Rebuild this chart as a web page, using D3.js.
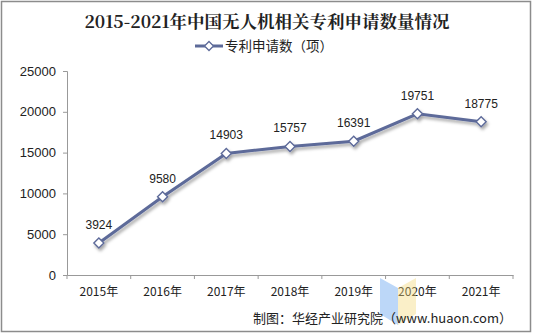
<!DOCTYPE html>
<html><head><meta charset="utf-8">
<script src="https://cdn.jsdelivr.net/npm/d3@7"></script>
<style>body{margin:0;background:#fff}svg{display:block}</style>
</head><body>
<svg id="c" width="533" height="334"></svg>
<script>
const categories = ["2015年","2016年","2017年","2018年","2019年","2020年","2021年"];
const values = [3924, 9580, 14903, 15757, 16391, 19751, 18775];
const yTicks = [0, 5000, 10000, 15000, 20000, 25000];
const title = "2015-2021年中国无人机相关专利申请数量情况";
const seriesName = "专利申请数（项）";
const source = "制图：华经产业研究院（www.huaon.com）";

const svg = d3.select("#c");
const W = 533, H = 334;
const m = {l: 67, r: 20, t: 71, b: 59};
const color = "#5d6a99";
const font = "'Liberation Sans', Arial, 'Noto Sans CJK SC', sans-serif";
const diamond = r => `M0,${-r}L${r},0L0,${r}L${-r},0Z`;

svg.append("rect").attr("x",1.5).attr("y",1.5).attr("width",W-4).attr("height",H-4)
  .attr("fill","#fff").attr("stroke","#8c8c8c").attr("stroke-width",1.5);

const defs = svg.append("defs");
const f = defs.append("filter").attr("id","sh").attr("x","-10%").attr("y","-10%").attr("width","120%").attr("height","130%");
f.append("feDropShadow").attr("dx",1.5).attr("dy",2.5).attr("stdDeviation",1.6).attr("flood-color","#000").attr("flood-opacity",0.35);

const x = d3.scaleBand().domain(categories).range([m.l, W - m.r]);
const y = d3.scaleLinear().domain([0, 25000]).range([H - m.b, m.t]);

// title
svg.append("text").attr("x", 267).attr("y", 28).attr("text-anchor","middle")
  .attr("font-family","'Noto Serif CJK SC','Noto Sans CJK SC',serif").attr("font-weight","bold")
  .attr("font-size",17.5).attr("fill","#222").text(title);

// legend
const lg = svg.append("g");
lg.append("line").attr("x1",195).attr("x2",223).attr("y1",46).attr("y2",46).attr("stroke",color).attr("stroke-width",3);
lg.append("path").attr("d", diamond(4.5)).attr("transform","translate(209,46)")
  .attr("fill","#fff").attr("stroke",color).attr("stroke-width",1.3);
lg.append("text").attr("x",225).attr("y",51).attr("font-family","'Noto Sans CJK SC',sans-serif")
  .attr("font-size",13.5).attr("fill","#222").text(seriesName);

// y axis
const ya = svg.append("g").attr("transform",`translate(${m.l},0)`)
  .call(d3.axisLeft(y).tickValues(yTicks).tickSize(4).tickPadding(7).tickFormat(d3.format("d")));
ya.selectAll("path,line").attr("stroke","#999");
ya.selectAll("text").attr("font-family",font).attr("font-size",13).attr("fill","#222");

// x axis
const xa = svg.append("g").attr("transform",`translate(0,${H - m.b})`)
  .call(d3.axisBottom(x).tickSize(0).tickPadding(12));
xa.select("path").attr("stroke","#999");
xa.selectAll("text").attr("font-family","'Noto Sans CJK SC',sans-serif").attr("font-size",12).attr("fill","#222");
xa.selectAll(".bt").data(categories.concat([null])).enter().append("line")
  .attr("x1",(d,i)=> i<categories.length ? x(d) : x.range()[1])
  .attr("x2",(d,i)=> i<categories.length ? x(d) : x.range()[1])
  .attr("y1",0).attr("y2",4).attr("stroke","#999");

// line
const cx = d => x(d) + x.bandwidth()/2;
const line = d3.line().x((d,i)=>cx(categories[i])).y(d=>y(d));
const g = svg.append("g").attr("filter","url(#sh)");
g.append("path").datum(values).attr("d",line).attr("fill","none").attr("stroke",color).attr("stroke-width",3);
g.selectAll(".pt").data(values).enter().append("path")
  .attr("d", diamond(5))
  .attr("transform",(d,i)=>`translate(${cx(categories[i])},${y(d)})`)
  .attr("fill","#fff").attr("stroke",color).attr("stroke-width",1.4);

svg.selectAll(".lbl").data(values).enter().append("text")
  .attr("x",(d,i)=>cx(categories[i])).attr("y",d=>y(d)-14)
  .attr("text-anchor","middle").attr("font-family",font).attr("font-size",12).attr("fill","#222")
  .text(d=>d);

// watermark logo (faint)
const wm = svg.append("g").attr("opacity",0.4);
wm.append("path").attr("d","M380,278 L398,288 L398,325 L380,314 Z").attr("fill","#5a9cf0");
wm.append("path").attr("d","M398,288 L416,278 L416,314 L398,325 Z").attr("fill","#f3d978");

// source
svg.append("text").attr("x",512).attr("y",323).attr("text-anchor","end")
  .attr("font-family","'Noto Sans CJK SC',sans-serif").attr("font-size",13).attr("fill","#222").text(source);
</script>
</body></html>
